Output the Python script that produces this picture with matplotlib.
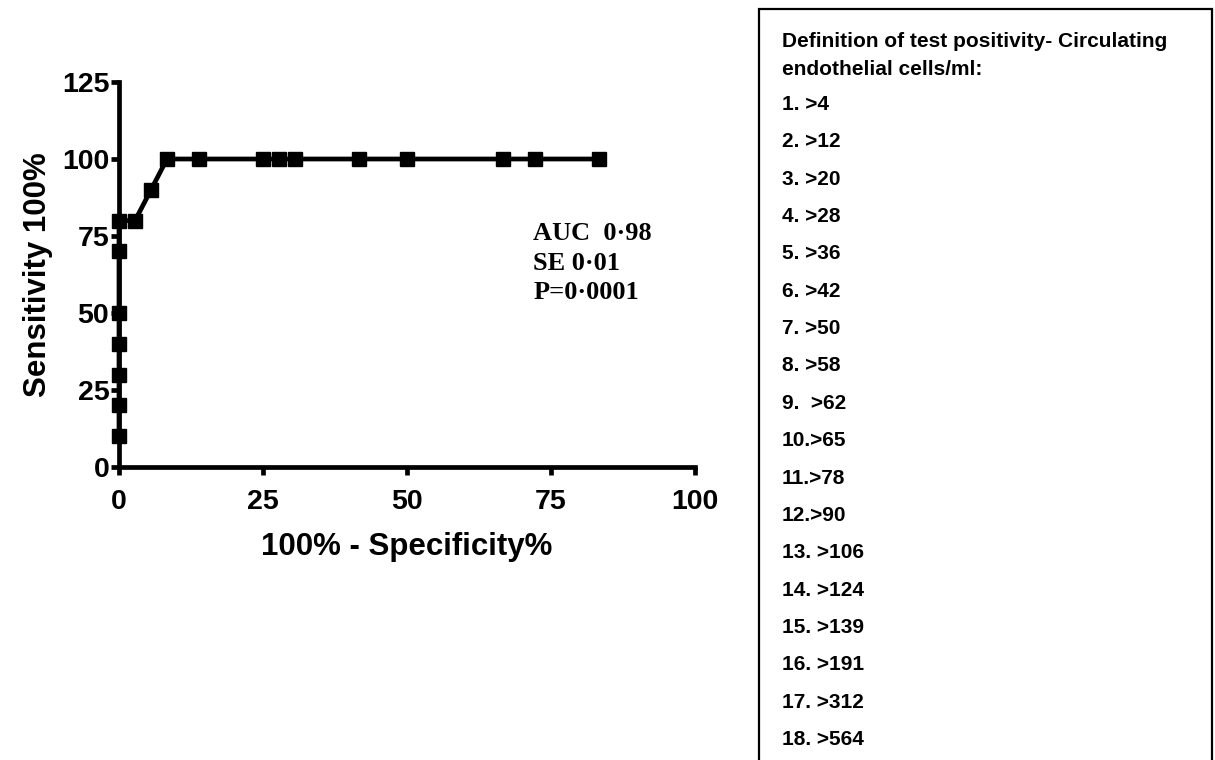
import matplotlib
matplotlib.use("Agg")
import matplotlib.pyplot as plt
from matplotlib.patches import Rectangle

# ---- data ----
fpr = [0, 0, 0, 0, 0, 0, 0, 2.78, 5.56, 8.33, 13.89, 25.0, 27.78, 30.56,
       41.67, 50.0, 66.67, 72.22, 83.33]
sens = [10, 20, 30, 40, 50, 70, 80, 80, 90, 100, 100, 100, 100, 100,
        100, 100, 100, 100, 100]
xticks = [0, 25, 50, 75, 100]
yticks = [0, 25, 50, 75, 100, 125]
stats_lines = ["AUC  0\u00b798", "SE 0\u00b701", "P=0\u00b70001"]
legend_title = ["Definition of test positivity- Circulating",
                "endothelial cells/ml:"]
thresholds = ["1. >4", "2. >12", "3. >20", "4. >28", "5. >36", "6. >42",
              "7. >50", "8. >58", "9.  >62", "10.>65", "11.>78", "12.>90",
              "13. >106", "14. >124", "15. >139", "16. >191", "17. >312",
              "18. >564"]

W, H = 1215, 760
fig = plt.figure(figsize=(W / 100, H / 100), dpi=100)
plt.rcParams['font.family'] = ['Liberation Sans', 'DejaVu Sans']

# axes: x 0..100 -> px 119..695 ; y 0..125 -> px 467..82
ax = fig.add_axes([119 / W, (H - 467) / H, 576 / W, 385 / H])
ax.plot(fpr, sens, color='black', lw=3.4, marker='s', markersize=10,
        clip_on=False, zorder=3)
ax.set_xlim(0, 100)
ax.set_ylim(0, 125)
ax.set_xticks(xticks)
ax.set_yticks(yticks)
for s in ['top', 'right']:
    ax.spines[s].set_visible(False)
for s in ['left', 'bottom']:
    ax.spines[s].set_linewidth(3.4)
ax.tick_params(axis='both', direction='out', length=6, width=3.4,
               labelsize=20.5)
ax.tick_params(axis='y', pad=1)
ax.tick_params(axis='x', pad=10)
for lab in ax.get_xticklabels() + ax.get_yticklabels():
    lab.set_fontweight('bold')
ax.set_xlabel("100% - Specificity%", fontsize=22.5, fontweight='bold',
              labelpad=12)
ax.set_ylabel("Sensitivity 100%", fontsize=22.5, fontweight='bold',
              labelpad=6)

# stats annotation, baselines at pixel rows 240, 270, 299
for t, yb in zip(stats_lines, [240, 270, 299]):
    ax.text(71.9, (467 - yb) / 3.08, t, fontsize=19, fontweight='bold',
            family=['Liberation Serif', 'DejaVu Serif'],
            va='baseline', ha='left')

# legend box
fig.patches.append(Rectangle((759 / W, -0.02), (1212 - 759) / W,
                             1.02 - 9 / H, transform=fig.transFigure,
                             fill=False, edgecolor='black', lw=1.6))
title_baselines = [47, 75]
for t, yb in zip(legend_title, title_baselines):
    fig.text(782 / W, 1 - yb / H, t, fontsize=15, fontweight='bold',
             va='baseline', ha='left')
for i, t in enumerate(thresholds):
    yb = 110 + i * 37.35
    fig.text(782 / W, 1 - yb / H, t, fontsize=15, fontweight='bold',
             va='baseline', ha='left')

fig.savefig("out.png", dpi=100)
